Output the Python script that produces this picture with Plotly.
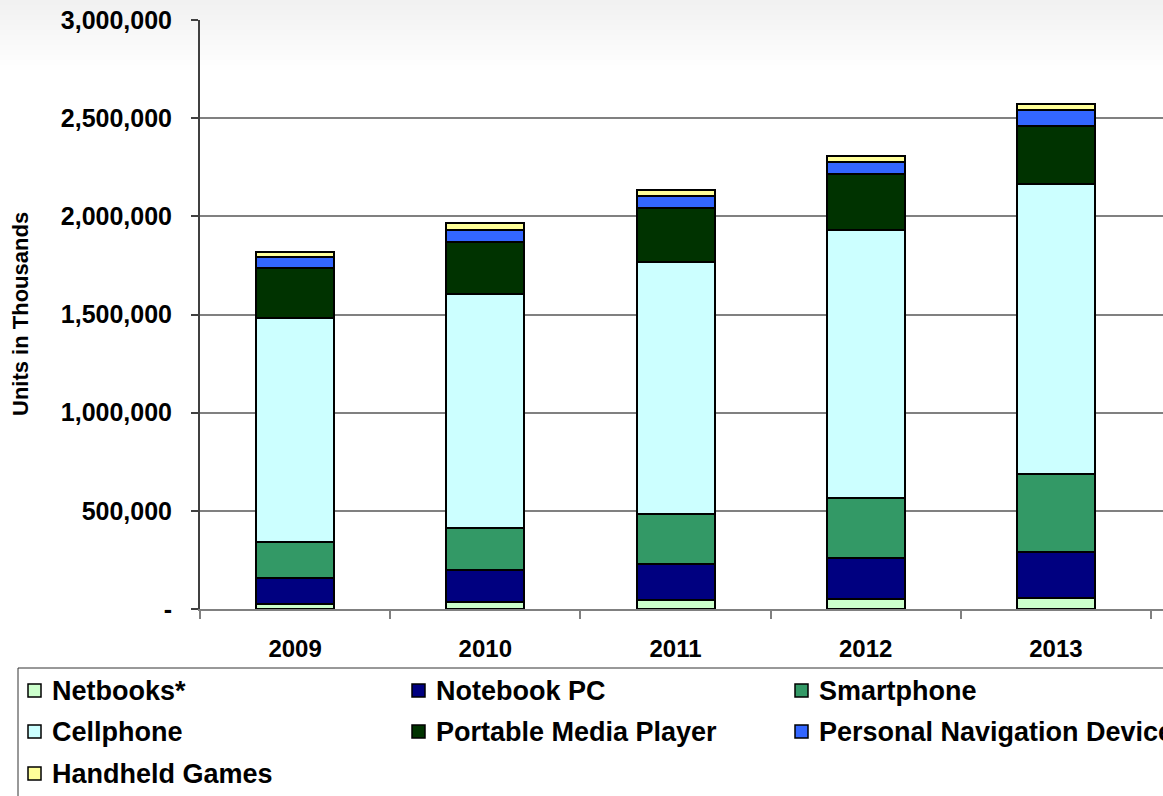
import plotly.graph_objects as go

years = ["2009", "2010", "2011", "2012", "2013"]
series_names = ["Netbooks*", "Notebook PC", "Smartphone", "Cellphone",
                "Portable Media Player", "Personal Navigation Device", "Handheld Games"]
netbooks = [25000, 36000, 46000, 51000, 56000]
notebook = [133000, 163000, 183000, 209000, 234000]
smartphone = [183000, 213000, 255000, 305000, 398000]
cellphone = [1141000, 1192000, 1283000, 1365000, 1477000]
pmp = [255000, 265000, 275000, 285000, 295000]
pnd = [56000, 61000, 61000, 62000, 81000]
handheld = [25000, 36000, 31000, 30000, 31000]
colors = ["#CCFFCC", "#000080", "#339966", "#CCFFFF", "#003300", "#3366FF", "#FFFF99"]

ytick_vals = [0, 500000, 1000000, 1500000, 2000000, 2500000, 3000000]
ytick_text = ["-", "500,000", "1,000,000", "1,500,000", "2,000,000", "2,500,000", "3,000,000"]

all_series = [netbooks, notebook, smartphone, cellphone, pmp, pnd, handheld]

W, H = 1163, 796
L, R, T, B = 200, 0, 20, 187
pw, ph = W - L - R, H - T - B
FONT = "Liberation Sans, Arial"

def px(x):
    return (x - L) / pw

def py(y):
    return (H - B - y) / ph

fig = go.Figure()
for name, vals, col in zip(series_names, all_series, colors):
    fig.add_trace(go.Bar(x=years, y=vals, name=name, marker_color=col,
                         marker_line_color="black", marker_line_width=2,
                         width=0.41, showlegend=False))

shapes = []
# soft gray gradient at the top of the image
n = 14
for i in range(n):
    g = int(241 + (255 - 241) * i / n)
    shapes.append(dict(type="rect", xref="paper", yref="paper", layer="below",
                       x0=px(0), x1=px(W), y0=py(i * 5 + 5), y1=py(i * 5),
                       fillcolor=f"rgb({g},{g},{g})", line_width=0))

# legend box
shapes.append(dict(type="rect", xref="paper", yref="paper",
                   x0=px(18), x1=px(1175), y0=py(800), y1=py(668),
                   line=dict(color="#333333", width=1), fillcolor="rgba(0,0,0,0)"))

annotations = []
col_x = [28, 412, 795]
row_y = [690, 731, 773]
for k, idx in enumerate(range(len(series_names))):
    r, c = divmod(k, 3)
    mx, my = col_x[c], row_y[r]
    shapes.append(dict(type="rect", xref="paper", yref="paper",
                       x0=px(mx), x1=px(mx + 13), y0=py(my + 7), y1=py(my - 6),
                       fillcolor=colors[idx], line=dict(color="black", width=1.5)))
    annotations.append(dict(text=series_names[idx], xref="paper", yref="paper",
                            x=px(mx + 22), y=py(my + 1), xanchor="left", yanchor="middle",
                            showarrow=False,
                            font=dict(family=FONT, size=27, color="black", weight="bold")))

annotations.append(dict(text="Units in Thousands", xref="paper", yref="paper",
                        x=px(20), y=py(314), textangle=-90, showarrow=False,
                        xanchor="center", yanchor="middle",
                        font=dict(family=FONT, size=22, color="black", weight="bold")))

fig.update_layout(
    barmode="stack",
    width=W, height=H,
    margin=dict(l=L, r=R, t=T, b=B),
    paper_bgcolor="white", plot_bgcolor="rgba(0,0,0,0)",
    shapes=shapes, annotations=annotations,
    showlegend=False,
    font=dict(family=FONT, color="black"),
)
fig.update_xaxes(
    range=[-0.5, 4.563],
    showline=True, linecolor="#808080", linewidth=2,
    ticks="outside", tickson="boundaries", ticklen=8, tickcolor="#808080", tickwidth=1.5,
    ticklabelstandoff=17,
    tickfont=dict(size=24, weight="bold"),
    showgrid=False,
)
fig.update_yaxes(
    range=[0, 3000000],
    tickvals=ytick_vals, ticktext=ytick_text,
    showline=True, linecolor="#404040", linewidth=2,
    ticks="outside", ticklen=7, tickcolor="#404040", tickwidth=1.5,
    ticklabelstandoff=14,
    tickfont=dict(size=25, weight="bold"),
    showgrid=True, gridcolor="#808080", gridwidth=2,
    zeroline=False,
)

fig.write_html("out.html")
